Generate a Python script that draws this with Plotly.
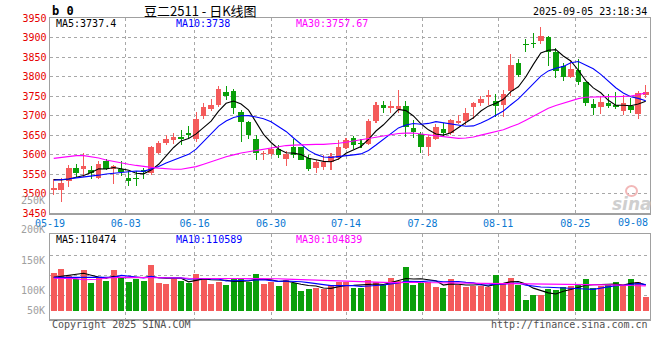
import plotly.graph_objects as go
import pandas as pd
import numpy as np

# ---------------- data ----------------
x_labels = ["05-19", "06-03", "06-16", "06-30", "07-14", "07-28", "08-11", "08-25", "09-08"]
# grid/label positions in candle-index units
x_label_pos = [-0.5, 9.6, 18.8, 29.0, 39.0, 49.2, 59.3, 69.6]

opens = [3508, 3508, 3531, 3566, 3564, 3560, 3541, 3584, 3564, 3563,
         3540, 3541, 3560, 3552, 3605, 3630, 3637, 3646, 3656, 3641,
         3698, 3716, 3728, 3760, 3764, 3709, 3683, 3641, 3601, 3602,
         3614, 3588, 3618, 3618, 3591, 3566, 3568, 3580, 3591, 3616,
         3642, 3628, 3628, 3687, 3727, 3718, 3717, 3725, 3668, 3652,
         3618, 3639, 3666, 3654, 3681, 3685, 3721, 3733, 3747, 3738,
         3726, 3762, 3834, 3882, 3887, 3890, 3901, 3862, 3826, 3799,
         3816, 3786, 3730, 3721, 3732, 3726, 3711, 3724, 3704, 3753]
highs = [3537, 3540, 3572, 3576, 3604, 3571, 3584, 3589, 3574, 3584,
         3557, 3557, 3566, 3623, 3635, 3651, 3654, 3662, 3672, 3709,
         3731, 3743, 3776, 3776, 3767, 3715, 3685, 3650, 3609, 3620,
         3625, 3608, 3641, 3620, 3598, 3585, 3600, 3603, 3636, 3642,
         3648, 3641, 3690, 3735, 3737, 3737, 3766, 3737, 3688, 3658,
         3651, 3679, 3681, 3691, 3702, 3719, 3735, 3749, 3766, 3756,
         3766, 3857, 3846, 3897, 3911, 3926, 3904, 3873, 3834, 3840,
         3846, 3786, 3743, 3749, 3755, 3760, 3753, 3745, 3764, 3777]
lows = [3497, 3479, 3516, 3543, 3543, 3537, 3538, 3560, 3524, 3546,
        3520, 3520, 3537, 3547, 3602, 3625, 3628, 3625, 3640, 3631,
        3690, 3711, 3722, 3739, 3705, 3632, 3641, 3587, 3587, 3596,
        3590, 3570, 3590, 3586, 3558, 3553, 3561, 3560, 3587, 3613,
        3615, 3617, 3624, 3680, 3707, 3707, 3707, 3644, 3643, 3604,
        3597, 3636, 3647, 3650, 3677, 3675, 3690, 3724, 3726, 3695,
        3695, 3749, 3798, 3862, 3873, 3884, 3826, 3796, 3788, 3796,
        3779, 3724, 3702, 3705, 3718, 3716, 3702, 3707, 3692, 3745]
closes = [3514, 3527, 3566, 3553, 3571, 3552, 3576, 3563, 3571, 3555,
          3533, 3538, 3555, 3619, 3630, 3640, 3646, 3639, 3649, 3690,
          3721, 3728, 3767, 3750, 3719, 3683, 3650, 3603, 3604, 3614,
          3600, 3601, 3599, 3587, 3564, 3581, 3581, 3595, 3620, 3638,
          3624, 3626, 3686, 3727, 3718, 3724, 3724, 3670, 3658, 3618,
          3646, 3671, 3656, 3689, 3687, 3707, 3731, 3743, 3752, 3725,
          3756, 3830, 3805, 3880, 3884, 3904, 3864, 3813, 3798, 3820,
          3785, 3732, 3719, 3735, 3724, 3721, 3732, 3713, 3758, 3760]
volumes = [128800, 135600, 123900, 117800, 133900, 112200, 119400, 115600, 133900, 122200,
           113900, 118300, 115600, 142200, 112200, 110600, 117800, 115600, 111700, 127200,
           120600, 110600, 113900, 108900, 117800, 120600, 113900, 127200, 110600, 112800,
           106700, 117200, 112200, 98900, 102200, 102800, 101100, 108300, 112800, 112800,
           103900, 103900, 116700, 113300, 108300, 120600, 115600, 138300, 108300, 111100,
           112800, 105600, 103300, 118300, 108300, 105600, 106700, 106700, 105000, 125000,
           111700, 120600, 108300, 83300, 91700, 91700, 101100, 99400, 105600, 106100,
           110000, 118300, 103900, 106700, 108300, 113300, 108300, 118300, 113300, 88900]

# moving-average values before a full window exists
ma5_head = [3536, 3535, 3537, 3541]
ma10_head = [3534, 3535, 3537, 3540, 3542, 3544, 3547, 3550, 3552]
ma30_head = [3590, 3592, 3595, 3597, 3597, 3594, 3591, 3586, 3582, 3578,
             3575, 3572, 3569, 3567, 3565, 3563, 3562, 3562, 3565, 3569,
             3575, 3582, 3588, 3594, 3599, 3604, 3607, 3610, 3613]
vma5_head = [121000, 123000, 125000, 126000]
vma10_head = [121000, 121000, 121500, 122000, 122000, 122000, 121500, 121000, 121000]
vma30_head = [119500, 119500, 119500, 119000, 117000, 117000, 118000, 120000, 121000, 121000,
              121000, 121000, 121000, 120600, 120600, 120600, 120600, 120000, 119500, 119500,
              119500, 119500, 119000, 118500, 118500, 118300, 118300, 118300, 118300]

header_price = ["MA5:3737.4", "MA10:3738", "MA30:3757.67"]
header_vol = ["MA5:110474", "MA10:110589", "MA30:104839"]
vol_axis_labels = ["250K", "200K", "150K", "100K", "50K"]
price_ticks = [3450, 3500, 3550, 3600, 3650, 3700, 3750, 3800, 3850, 3900, 3950]

# ---------------- styling ----------------
RED = "#f45b5b"
GREEN = "#0a9f0a"
MONO = "DejaVu Sans Mono"
W, H = 660, 360
X0, X1 = 50, 649.5


def px_x(p):
    return p / W


def px_y(p):
    return 1 - p / H


n = len(closes)
idx = list(range(n))
o = np.array(opens, float)
c = np.array(closes, float)
h = np.array(highs, float)
l = np.array(lows, float)
v = np.array(volumes, float)
up = c >= o
colors = [RED if u else GREEN for u in up]


def moving(series, win, head):
    s = pd.Series(series).rolling(win).mean().to_numpy()
    s[:len(head)] = head
    return s


ma5 = moving(c, 5, ma5_head)
ma10 = moving(c, 10, ma10_head)
ma30 = moving(c, 30, ma30_head)
vma5 = moving(v, 5, vma5_head)
vma10 = moving(v, 10, vma10_head)
vma30 = moving(v, 30, vma30_head)

fig = go.Figure()

# wicks
fig.add_trace(go.Bar(x=idx, y=h - l, base=l, width=0.14, marker=dict(color=colors, line=dict(width=0)),
                     xaxis="x", yaxis="y", hoverinfo="skip"))
# bodies
body = np.maximum(np.abs(c - o), 2.6)
fig.add_trace(go.Bar(x=idx, y=body, base=np.minimum(o, c), width=0.74,
                     marker=dict(color=colors, line=dict(width=0)), xaxis="x", yaxis="y"))
# price MAs
for ser, col in [(ma5, "black"), (ma10, "#0000ff"), (ma30, "#ff00ff")]:
    fig.add_trace(go.Scatter(x=idx, y=ser, mode="lines", line=dict(color=col, width=1.1),
                             xaxis="x", yaxis="y", hoverinfo="skip"))

# volume
VBASE = 65500
fig.add_trace(go.Bar(x=idx, y=v - VBASE, base=VBASE, width=0.8,
                     marker=dict(color=colors, line=dict(width=0)), xaxis="x2", yaxis="y2"))
for ser, col in [(vma5, "black"), (vma10, "#0000ff"), (vma30, "#ff00ff")]:
    fig.add_trace(go.Scatter(x=idx, y=ser, mode="lines", line=dict(color=col, width=1.1),
                             xaxis="x2", yaxis="y2", hoverinfo="skip"))

axis_common = dict(showgrid=True, gridcolor="#a8a8a8", griddash="dot", gridwidth=1,
                   showline=True, mirror=True, linecolor="#a0a0a0", linewidth=1.5,
                   zeroline=False, ticks="", fixedrange=True, automargin=False)

fig.update_layout(
    width=W, height=H, margin=dict(l=0, r=0, t=0, b=0, autoexpand=False),
    paper_bgcolor="white", plot_bgcolor="white", showlegend=False,
    barmode="overlay", bargap=0,
    xaxis=dict(domain=[px_x(X0), px_x(X1)], range=[-0.5, n - 0.5], anchor="y",
               tickmode="array", tickvals=x_label_pos, ticktext=x_labels[:8],
               tickfont=dict(family=MONO, size=10, color="#0a78d2"), **axis_common),
    yaxis=dict(domain=[px_y(213), px_y(18)], range=[3450, 3950], anchor="x",
               tickmode="array", tickvals=price_ticks, ticktext=[str(t) for t in price_ticks],
               tickfont=dict(family=MONO, size=10, color="#e60000"), **axis_common),
    xaxis2=dict(domain=[px_x(X0), px_x(X1)], range=[-0.5, n - 0.5], anchor="y2",
                tickmode="array", tickvals=x_label_pos, showticklabels=False, **axis_common),
    yaxis2=dict(domain=[px_y(319), px_y(234.3)], range=[51667, 192833], anchor="x2",
                tickmode="array", tickvals=[90500, 123833, 157167], showticklabels=False,
                **axis_common),
)

ann = []


def text(x, y, s, color="black", size=10, family=MONO, anchor="left", **kw):
    ann.append(dict(x=px_x(x), y=px_y(y), xref="paper", yref="paper", text=s, showarrow=False,
                    xanchor=anchor, yanchor="middle", font=dict(family=family, size=size, color=color), **kw))


text(50, 11, "<b>b 0</b>", size=12)
text(200, 10, "豆二2511 - 日K线图", size=13, family="Noto Sans CJK SC", anchor="center")
text(649, 12, "2025-09-05 23:18:34", anchor="right")
for s, xx, col in zip(header_price, [54, 174, 294], ["black", "#0000ff", "#ff00ff"]):
    text(xx, 24, s, color=col)
for s, xx, col in zip(header_vol, [54, 174, 294], ["black", "#0000ff", "#ff00ff"]):
    text(xx, 239, s, color=col)
for s, yy in zip(vol_axis_labels, [200, 230, 260.7, 290, 310.7]):
    text(46.5, yy, s, color="#a0a0a0", anchor="right")
text(649.5, 222, x_labels[8], color="#0a78d2", anchor="right")
text(50, 324, "Copyright 2025 SINA.COM", color="#505050")
text(649.5, 324, "http://finance.sina.com.cn", color="#505050", anchor="right")
text(632, 204, "<b><i>sina</i></b>", color="#cfcfcf", size=17, family="DejaVu Sans", anchor="center")

fig.update_layout(annotations=ann)
fig.add_shape(type="circle", xref="paper", yref="paper",
              x0=px_x(626), x1=px_x(637), y0=px_y(196), y1=px_y(186),
              line=dict(color="#f2b8b8", width=2))

fig.write_html("out.html", config={"displayModeBar": False, "staticPlot": True},
               post_script="document.body.style.margin='0';document.body.style.padding='0';")
